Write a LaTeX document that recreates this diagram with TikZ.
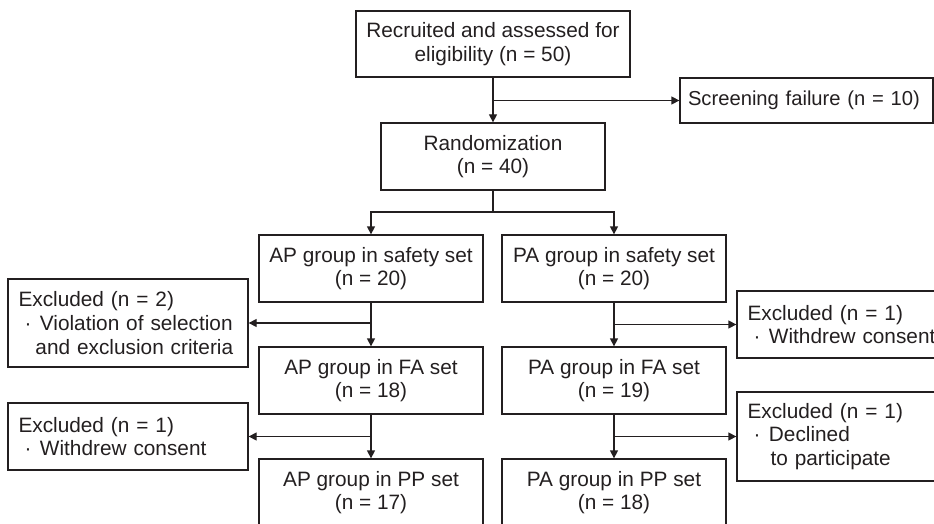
\documentclass[tikz,border=0pt]{standalone}
\usepackage{fontspec}
\setmainfont{Liberation Sans}
\usetikzlibrary{arrows.meta}
\definecolor{ink}{HTML}{231F20}
\newcommand{\mybul}{\hspace*{6pt}\textperiodcentered\hspace*{8.5pt}}
\begin{document}
\begin{tikzpicture}[x=1pt,y=-1pt,
  every node/.style={font=\fontsize{20.8}{23.7}\selectfont, text=ink},
  box/.style={draw=ink, line width=1.3pt, rectangle, inner sep=0pt, align=center},
  lbox/.style={draw=ink, line width=1.3pt, rectangle, inner ysep=0pt, inner xsep=10.5pt, align=left},
  conn/.style={draw=ink, line width=1.3pt},
  arr/.style={conn, -{Triangle[length=8pt,width=8pt]}}]
\useasboundingbox (0,0) rectangle (934,524);
\clip (0,0) rectangle (934,524);
% main column boxes
\node[box, minimum width=274pt, minimum height=66pt] (top) at (493,44) {Recruited and assessed for\\eligibility (n = 50)};
\node[box, minimum width=224pt, minimum height=67pt] (rand) at (493,156.5) {Randomization\\(n = 40)};
\node[box, minimum width=224pt, minimum height=67pt] (aps) at (371,268.5) {AP group in safety set\\(n = 20)};
\node[box, minimum width=224pt, minimum height=67pt] (apf) at (371,380.5) {AP group in FA set\\(n = 18)};
\node[box, minimum width=224pt, minimum height=67pt] (app) at (371,492.5) {AP group in PP set\\(n = 17)};
\node[box, minimum width=224pt, minimum height=67pt] (pas) at (614,268.5) {PA group in safety set\\(n = 20)};
\node[box, minimum width=224pt, minimum height=67pt] (paf) at (614,380.5) {PA group in FA set\\(n = 19)};
\node[box, minimum width=224pt, minimum height=67pt] (pap) at (614,492.5) {PA group in PP set\\(n = 18)};
% side boxes
\node[lbox, text width=237pt, minimum height=45pt, inner xsep=8pt, font=\fontsize{20.2}{23.7}\selectfont] (scr) at (806.5,100.5) {\mbox{Screening failure (n = 10)}};
\node[lbox, text width=219pt, minimum height=88pt] (ex1) at (128,323) {Excluded (n = 2)\\\mybul Violation of selection\\\hspace*{17pt}and exclusion criteria};
\node[lbox, text width=219pt, minimum height=67pt] (ex2) at (128,436.5) {Excluded (n = 1)\\\mybul Withdrew consent};
\node[lbox, text width=192pt, minimum height=67pt] (rx1) at (843.5,324.5) {Excluded (n = 1)\\\mybul Withdrew consent};
\node[lbox, text width=192pt, minimum height=89pt] (rx2) at (843.5,436.5) {Excluded (n = 1)\\\mybul Declined\\\hspace*{23pt}to participate};
% connectors
\draw[arr] (top.south) -- (rand.north);
\draw[arr] (top.south |- scr.west) -- (scr.west);
\coordinate (sp) at (493,212);
\draw[conn] (rand.south) -- (sp);
\draw[arr] (sp) -| (aps.north);
\draw[arr] (sp) -| (pas.north);
\draw[arr] (aps.south) -- (apf.north);
\draw[arr] (apf.south) -- (app.north);
\draw[arr] (pas.south) -- (paf.north);
\draw[arr] (paf.south) -- (pap.north);
\draw[arr] (aps.south |- ex1.east) -- (ex1.east);
\draw[arr] (apf.south |- ex2.east) -- (ex2.east);
\draw[arr] (pas.south |- rx1.west) -- (rx1.west);
\draw[arr] (paf.south |- rx2.west) -- (rx2.west);
\end{tikzpicture}
\end{document}
